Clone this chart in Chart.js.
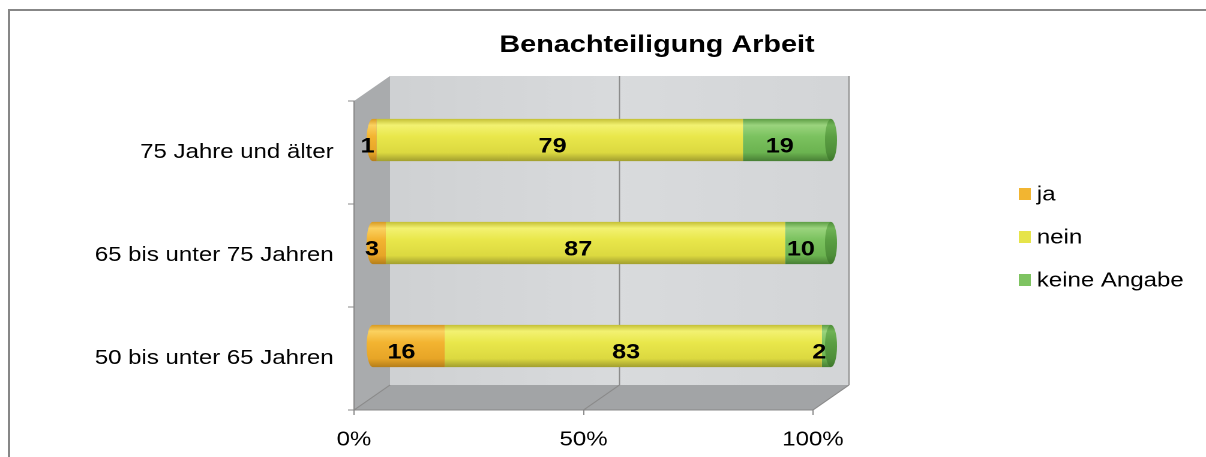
<!DOCTYPE html>
<html lang="de">
<head>
  <meta charset="UTF-8" />
  <title>Benachteiligung Arbeit</title>
  <script src="https://cdn.jsdelivr.net/npm/chart.js"></script>
  <style>
    html, body {
      margin: 0;
      padding: 0;
      background: #fff;
      overflow: hidden;
    }
    body {
      position: relative;
      width: 1206px;
      height: 457px;
    }
    .frame {
      position: absolute;
      left: 8px;
      top: 9px;
      width: 1230px;
      height: 480px;
      border: 2px solid #878787;
    }
    /* the original picture is stretched sideways, so is the canvas */
    #chart {
      position: absolute;
      left: 0;
      top: 0;
      transform: scaleX(1.2);
      transform-origin: 0 0;
    }
  </style>
</head>
<body>
  <div class="frame"></div>
  <canvas id="chart" width="1005" height="457"></canvas>

  <script>
    // data
    const categories = ['75 Jahre und älter', '65 bis unter 75 Jahren', '50 bis unter 65 Jahren'];
    const seriesNames = ['ja', 'nein', 'keine Angabe'];
    const ja = [1, 3, 16];
    const nein = [79, 87, 83];
    const keineAngabe = [19, 10, 2];
    const xTicks = [0, 50, 100];

    // styles
    const FONT = '"Liberation Sans", Arial, sans-serif';
    const legendColors = ['#f2b531', '#e6e44a', '#7ec361'];
    const bodyStops = [
      ['#d89a22', '#fbd260', '#f3b431', '#e7a527', '#b57e1a'],
      ['#c4c036', '#f3f272', '#e9e74b', '#dcd940', '#a29f2f'],
      ['#5e9e45', '#9bd47e', '#7bc25f', '#6bb350', '#487f35']
    ];
    const capStops = ['#4d8d38', '#6fb355', '#5b9f43', '#4e8e39', '#3d772b'];
    const DEPTH_X = 30, DEPTH_Y = -25;
    const BAR_PCT = 0.41;
    const CAP_RX = 5;
    const LABEL_DX = 9, LABEL_DY = -6;

    // 100% stacked, like the original
    const totals = categories.map((c, i) => ja[i] + nein[i] + keineAngabe[i]);
    const counts = [ja, nein, keineAngabe];
    const share = arr => arr.map((v, i) => v * 100 / totals[i]);

    function cylinder(ctx, top, h, stops) {
      const g = ctx.createLinearGradient(0, top, 0, top + h);
      const pos = [0, 0.15, 0.42, 0.8, 1];
      stops.forEach((c, k) => g.addColorStop(pos[k], c));
      return g;
    }

    function barFill(stops) {
      return c => {
        const y = c.chart.scales.y;
        if (c.type !== 'data' || !y) return stops[2];
        const mid = y.getPixelForValue(c.dataIndex);
        const h = y.height / categories.length * BAR_PCT;
        if (!isFinite(mid) || !isFinite(h) || h <= 0) return stops[2];
        return cylinder(c.chart.ctx, mid - h / 2, h, stops);
      };
    }

    function poly(ctx, pts, fill) {
      ctx.beginPath();
      pts.forEach(([px, py], k) => k ? ctx.lineTo(px, py) : ctx.moveTo(px, py));
      ctx.closePath();
      ctx.fillStyle = fill;
      ctx.fill();
    }

    function line(ctx, x1, y1, x2, y2) {
      ctx.beginPath();
      ctx.moveTo(x1, y1);
      ctx.lineTo(x2, y2);
      ctx.stroke();
    }

    const box3d = {
      id: 'box3d',
      beforeDraw(chart) {
        const {ctx, chartArea: a, scales: {x}} = chart;
        const {left: L, right: R, top: T, bottom: B} = a;
        ctx.save();
        // back wall
        const g = ctx.createLinearGradient(L + DEPTH_X, 0, R + DEPTH_X, 0);
        g.addColorStop(0, '#cfd1d3');
        g.addColorStop(0.5, '#d9dbdd');
        g.addColorStop(1, '#d3d5d7');
        ctx.fillStyle = g;
        ctx.fillRect(L + DEPTH_X, T + DEPTH_Y, R - L, B - T);
        // side wall and floor
        poly(ctx, [[L, T], [L + DEPTH_X, T + DEPTH_Y], [L + DEPTH_X, B + DEPTH_Y], [L, B]], '#a9abad');
        poly(ctx, [[L, B], [L + DEPTH_X, B + DEPTH_Y], [R + DEPTH_X, B + DEPTH_Y], [R, B]], '#a2a4a6');
        // grid on floor and back wall
        ctx.strokeStyle = '#8a8a8a';
        ctx.lineWidth = 1;
        x.ticks.forEach(t => {
          const px = x.getPixelForValue(t.value);
          line(ctx, px, B, px + DEPTH_X, B + DEPTH_Y);
          if (t.value > 0) line(ctx, px + DEPTH_X, B + DEPTH_Y, px + DEPTH_X, T + DEPTH_Y);
        });
        ctx.restore();
      },
      beforeDatasetsDraw(chart) {
        chart.ctx.save();
        chart.ctx.translate(DEPTH_X / 2, DEPTH_Y / 2);
      },
      afterDatasetsDraw(chart) {
        const ctx = chart.ctx;
        const metas = chart.data.datasets.map((d, k) => chart.getDatasetMeta(k));
        categories.forEach((c, i) => {
          const used = metas.filter((m, k) => counts[k][i] > 0);
          const first = used[0].data[i];
          const last = used[used.length - 1].data[i];
          const firstK = metas.indexOf(used[0]);
          const top = first.y - first.height / 2;
          // rounded left end
          ctx.beginPath();
          ctx.ellipse(first.base, first.y, CAP_RX, first.height / 2, 0, Math.PI / 2, Math.PI * 1.5);
          ctx.closePath();
          ctx.fillStyle = cylinder(ctx, top, first.height, bodyStops[firstK]);
          ctx.fill();
          // end face on the right
          ctx.beginPath();
          ctx.ellipse(last.x, last.y, CAP_RX, last.height / 2, 0, 0, Math.PI * 2);
          ctx.fillStyle = cylinder(ctx, top, last.height, capStops);
          ctx.fill();
        });
        ctx.restore();

        // value labels
        ctx.save();
        ctx.font = 'bold 21px ' + FONT;
        ctx.fillStyle = '#000';
        ctx.textAlign = 'center';
        ctx.textBaseline = 'middle';
        metas.forEach((m, k) => {
          m.data.forEach((el, i) => {
            if (!counts[k][i]) return;
            ctx.fillText(String(counts[k][i]), (el.x + el.base) / 2 + LABEL_DX, el.y + LABEL_DY);
          });
        });
        ctx.restore();
      },
      afterDraw(chart) {
        const ctx = chart.ctx;
        ctx.save();
        // title
        ctx.font = 'bold 24px ' + FONT;
        ctx.fillStyle = '#000';
        ctx.textAlign = 'center';
        ctx.textBaseline = 'alphabetic';
        ctx.fillText('Benachteiligung Arbeit', 547.5, 52);
        // legend
        ctx.font = '20px ' + FONT;
        ctx.textAlign = 'left';
        ctx.textBaseline = 'middle';
        chart.data.datasets.forEach((d, k) => {
          const cy = 194 + k * 43;
          ctx.fillStyle = legendColors[k];
          ctx.fillRect(849, cy - 6, 10, 12);
          ctx.fillStyle = '#000';
          ctx.fillText(d.label, 864, cy + 1);
        });
        ctx.restore();
      }
    };

    Chart.defaults.font.family = FONT;

    new Chart(document.getElementById('chart'), {
      type: 'bar',
      data: {
        labels: categories,
        datasets: [ja, nein, keineAngabe].map((arr, k) => ({
          label: seriesNames[k],
          data: share(arr),
          backgroundColor: barFill(bodyStops[k]),
          borderWidth: 0,
          barPercentage: BAR_PCT,
          categoryPercentage: 1
        }))
      },
      options: {
        indexAxis: 'y',
        responsive: false,
        animation: false,
        devicePixelRatio: 2,
        layout: { padding: { left: 8, right: 327.5, top: 101, bottom: 0 } },
        scales: {
          x: {
            stacked: true,
            min: 0,
            max: 100,
            afterBuildTicks: s => { s.ticks = xTicks.map(v => ({ value: v })); },
            afterFit: s => { s.height = 47; },
            grid: { drawOnChartArea: false, tickLength: 5, color: '#888' },
            border: { color: '#888' },
            ticks: {
              color: '#000',
              font: { size: 20 },
              padding: 13,
              maxRotation: 0,
              callback: v => v + '%'
            }
          },
          y: {
            stacked: true,
            afterFit: s => { s.width = 287; },
            grid: { drawOnChartArea: false, tickLength: 5, color: '#888' },
            border: { color: '#888' },
            ticks: { color: '#000', font: { size: 20 }, padding: 12 }
          }
        },
        plugins: {
          legend: { display: false },
          title: { display: false },
          tooltip: { enabled: false }
        }
      },
      plugins: [box3d]
    });
  </script>
</body>
</html>
